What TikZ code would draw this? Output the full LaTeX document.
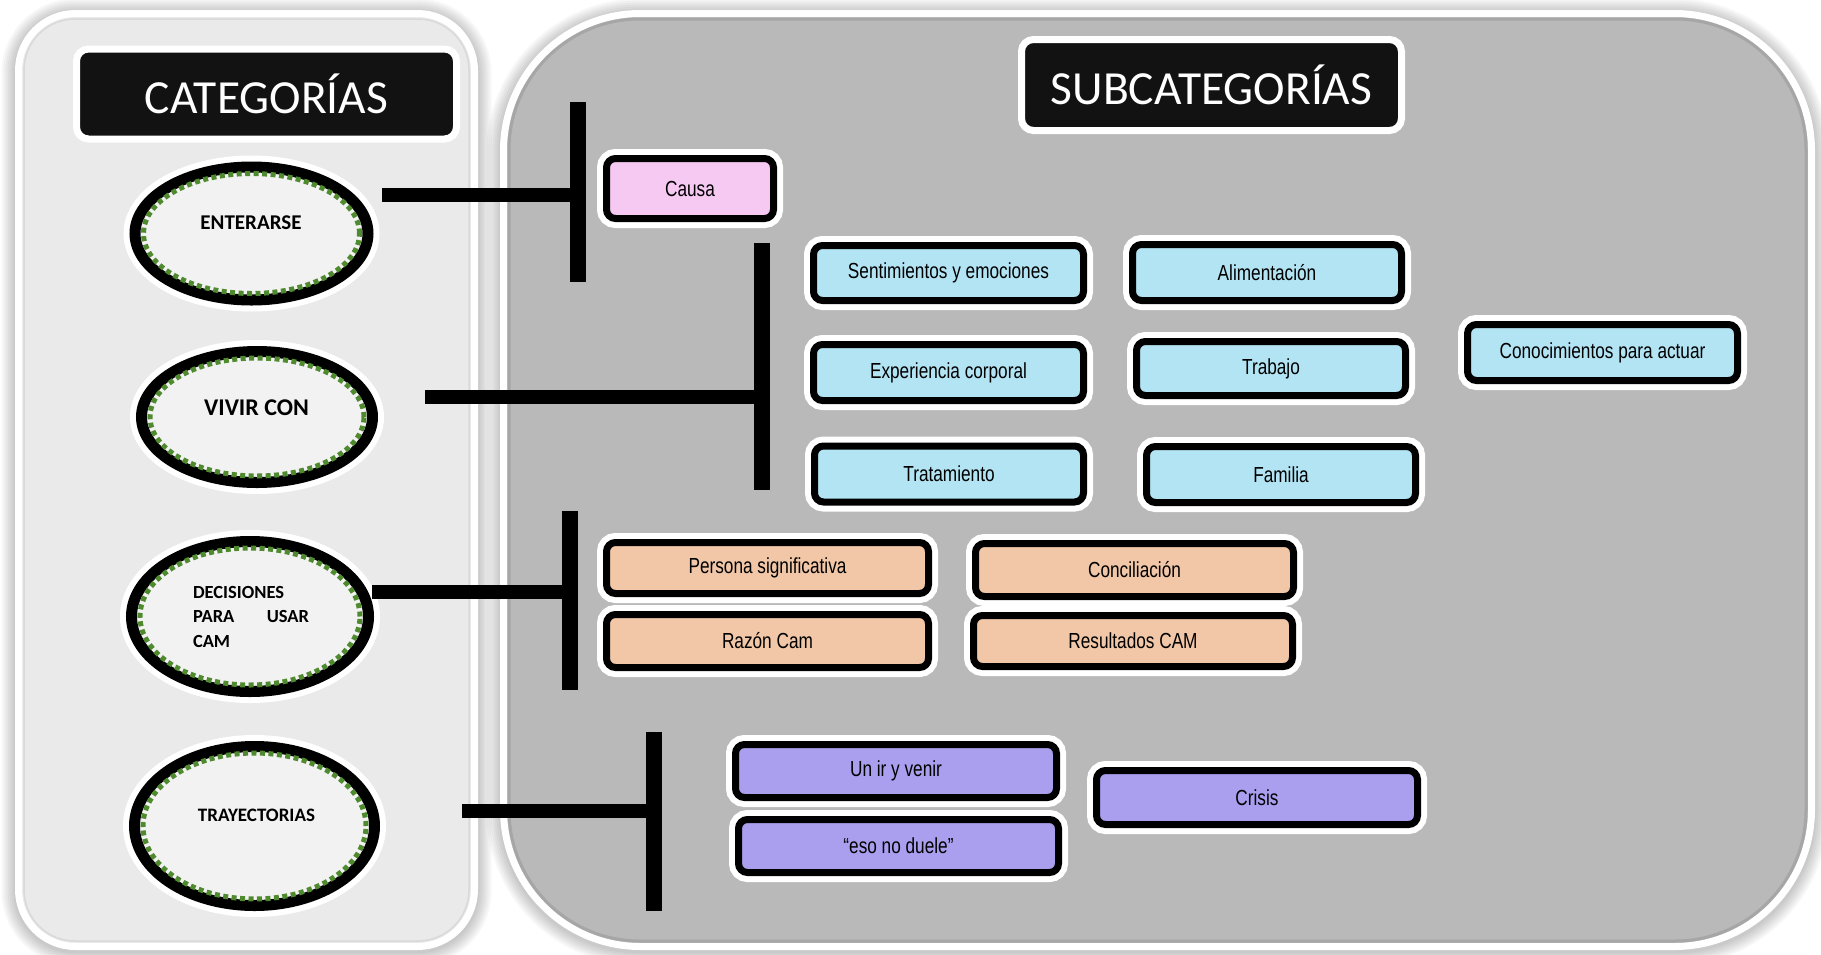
\documentclass[tikz,border=0pt]{standalone}
\usepackage{fontspec}
\newfontfamily\hdrfont{Carlito}
\newfontfamily\boxfont[FakeStretch=0.79]{Liberation Sans}
\usetikzlibrary{shapes.geometric}

\definecolor{panelgray}{HTML}{B9B9B9}
\definecolor{panellight}{HTML}{EAEAEA}
\definecolor{ovalfill}{HTML}{F2F2F2}
\definecolor{dotgreen}{HTML}{4F8A2F}
\definecolor{hdrblack}{HTML}{121212}
\definecolor{pinkfill}{HTML}{F6C9F3}
\definecolor{bluefill}{HTML}{B2E4F4}
\definecolor{peachfill}{HTML}{F1C7A8}
\definecolor{lilacfill}{HTML}{A99FEE}

\tikzset{
  hdr/.style={rectangle, fill=hdrblack, draw=white, line width=7pt,
    rounded corners=12pt, text=white, inner sep=0pt,
    font=\hdrfont\fontsize{47.5}{50}\selectfont},
  oval/.style={ellipse, draw=black, line width=11pt, fill=ovalfill,
    inner sep=0pt, preaction={draw=white, line width=23pt}},
  dots/.style={draw=dotgreen, line width=5pt, dash pattern=on 5pt off 3.5pt},
  ovaltxt/.style={inner sep=0pt,
    font=\hdrfont\bfseries\fontsize{#1}{#1}\selectfont},
  subbox/.style={rectangle, rounded corners=9pt, draw=black, line width=7pt,
    inner sep=0pt, text=black, font=\boxfont\fontsize{21.8}{24}\selectfont,
    preaction={draw=white, line width=19pt}},
  link/.style={draw=black, line width=14pt},
  bar/.style={draw=black, line width=16pt},
}

\begin{document}
\begin{tikzpicture}[x=1pt,y=-1pt]
\useasboundingbox (0,0) rectangle (1821,954);
\fill[white] (0,0) rectangle (1821,954);

% soft halos behind the two panels
\foreach \w in {10,14,...,34} {
  \draw[black, opacity=0.03, line width=\w pt, rounded corners=57pt]
    (18.5,15.5) rectangle (474.5,948.5);
  \draw[black, opacity=0.03, line width=\w pt, rounded corners=137pt]
    (503.5,15.5) rectangle (1811.5,948.5);
}

% left panel
\path[fill=panellight, draw=white, line width=7pt, rounded corners=57pt]
  (18.5,13.5) rectangle (474.5,946.5);
\draw[black!15, line width=1.5pt, rounded corners=51pt]
  (24,19) rectangle (469,941);

% right panel
\path[fill=panelgray, draw=white, line width=7pt, rounded corners=137pt]
  (503.5,13.5) rectangle (1811.5,946.5);
\draw[black!42, opacity=0.5, line width=3pt, rounded corners=131pt]
  (509,19) rectangle (1806,941);

% headers
\node[hdr, minimum width=380pt, minimum height=90pt] (cat) at (266.5,94) {CATEGORÍAS};
\node[hdr, minimum width=380pt, minimum height=91pt] (sub) at (1211.5,85) {SUBCATEGORÍAS};

% category ovals
\node[oval, minimum width=233pt, minimum height=133pt] (ent) at (251.5,233.5) {};
\draw[dots] (ent.center) ellipse [x radius=108pt, y radius=60pt];
\node[ovaltxt=21] (ent-t) at (251,223) {ENTERARSE};

\node[oval, minimum width=231pt, minimum height=131pt] (viv) at (257,417) {};
\draw[dots] (viv.center) ellipse [x radius=107pt, y radius=59pt];
\node[ovaltxt=24] (viv-t) at (256.5,408) {VIVIR CON};

\node[oval, minimum width=237pt, minimum height=150pt] (dec) at (250,616.5) {};
\draw[dots] (dec.center) ellipse [x radius=110pt, y radius=68.5pt];
\node[inner sep=0pt, text width=116pt, align=left,
  font=\hdrfont\bfseries\fontsize{18.5}{24.5}\selectfont] (dec-t) at (251,616.5)
  {DECISIONES\\PARA\hfill USAR\\CAM};

\node[oval, minimum width=240pt, minimum height=159pt] (tra) at (254.5,826) {};
\draw[dots] (tra.center) ellipse [x radius=111.5pt, y radius=73pt];
\node[ovaltxt=19] (tra-t) at (256.5,815) {TRAYECTORIAS};

% bracket connectors
\coordinate (s1) at (382,195);
\coordinate (t1) at (578,102);
\coordinate (u1) at (578,282);
\draw[bar] (t1) -- (u1);
\draw[link] (s1) -- (s1 -| t1);

\coordinate (s2) at (425,397);
\coordinate (t2) at (761.5,243);
\coordinate (u2) at (761.5,490);
\draw[bar] (t2) -- (u2);
\draw[link] (s2) -- (s2 -| t2);

\coordinate (s3) at (372,592);
\coordinate (t3) at (570,511);
\coordinate (u3) at (570,690);
\draw[bar] (t3) -- (u3);
\draw[link] (s3) -- (s3 -| t3);

\coordinate (s4) at (462,811);
\coordinate (t4) at (654,732);
\coordinate (u4) at (654,911);
\draw[bar] (t4) -- (u4);
\draw[link] (s4) -- (s4 -| t4);

% subcategory boxes
\node[subbox, fill=pinkfill, minimum width=167pt, minimum height=60pt] (causa) at (690,188.5) {Causa};

\node[subbox, fill=bluefill, minimum width=270pt, minimum height=55pt] (sent) at (948.5,273) {Sentimientos y emociones};
\node[subbox, fill=bluefill, minimum width=270pt, minimum height=56pt] (expe) at (948.5,372.5) {Experiencia corporal};
\node[subbox, fill=bluefill, minimum width=269pt, minimum height=56pt] (trat) at (949,474) {Tratamiento};
\node[subbox, fill=bluefill, minimum width=269pt, minimum height=56pt] (alim) at (1267,272.5) {Alimentación};
\node[subbox, fill=bluefill, minimum width=269pt, minimum height=54pt] (trab) at (1271,368.5) {Trabajo};
\node[subbox, fill=bluefill, minimum width=269pt, minimum height=56pt] (fami) at (1281,474.5) {Familia};
\node[subbox, fill=bluefill, minimum width=270pt, minimum height=56pt] (cono) at (1602.5,352.5) {Conocimientos para actuar};

\node[subbox, fill=peachfill, minimum width=322pt, minimum height=51pt] (pers) at (767.5,568) {Persona significativa};
\node[subbox, fill=peachfill, minimum width=322pt, minimum height=53pt] (razo) at (767.5,641) {Razón Cam};
\node[subbox, fill=peachfill, minimum width=318pt, minimum height=53pt] (conc) at (1134.5,570) {Conciliación};
\node[subbox, fill=peachfill, minimum width=319pt, minimum height=51pt] (resu) at (1133,641) {Resultados CAM};

\node[subbox, fill=lilacfill, minimum width=321pt, minimum height=53pt] (unir) at (896,771) {Un ir y venir};
\node[subbox, fill=lilacfill, minimum width=320pt, minimum height=53pt] (eso) at (898.5,846) {“eso no duele”};
\node[subbox, fill=lilacfill, minimum width=321pt, minimum height=54pt] (cris) at (1257,797.5) {Crisis};

\end{tikzpicture}
\end{document}
